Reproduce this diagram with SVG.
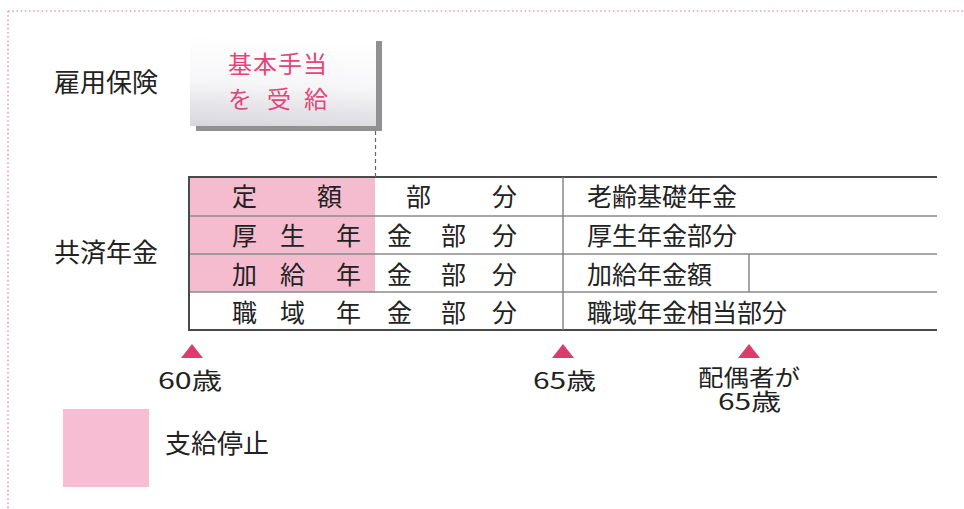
<svg xmlns="http://www.w3.org/2000/svg" width="964" height="509" viewBox="0 0 964 509">
<defs>
<linearGradient id="boxg" x1="0.1" y1="0" x2="0" y2="1">
<stop offset="0" stop-color="#ffffff"/>
<stop offset="0.5" stop-color="#f6f6f8"/>
<stop offset="1" stop-color="#d6d6dc"/>
</linearGradient>
<style>
.t{font-family:"Noto Sans CJK JP","Noto Sans",sans-serif;fill:#222;}
.lbl{font-size:26px;}
.cell{font-size:25px;}
.pk{font-family:"Noto Sans CJK JP","Noto Sans",sans-serif;fill:#e4457a;font-size:24px;}
.hl{stroke:#8a8a8a;stroke-width:1.3;fill:none;}
.hd{stroke:#4a4a4a;stroke-width:2;fill:none;}
.vl{stroke:#777;stroke-width:1.3;fill:none;}
.pink{fill:#f5bcd0;}
.tri{fill:#dc3c6c;}
.age{font-size:23px;}
</style>
</defs>
<rect width="964" height="509" fill="#ffffff"/>
<g id="frame">
<path d="M8 11 H964 M8 11 V509" stroke="#ee9cb6" stroke-width="1.6" stroke-dasharray="1.6 2.6" fill="none"/>
</g>

<g id="label-koyo">
<text class="t lbl" x="54" y="92">雇用保険</text>
</g>

<g id="node-kihon">
<rect x="196" y="41" width="186" height="90" fill="#919191"/>
<rect x="190" y="35" width="186" height="91" fill="url(#boxg)"/>
<text class="pk"><tspan x="228" y="73" letter-spacing="1">基本手当</tspan><tspan x="228" y="108">を</tspan><tspan x="267" y="108">受</tspan><tspan x="304" y="108">給</tspan></text>
</g>

<g id="label-kyosai">
<text class="t lbl" x="54" y="262">共済年金</text>
</g>

<g id="table">
<rect class="pink" x="189" y="178" width="186" height="114"/>
<path class="hd" d="M188 177 H937"/>
<path class="hl" d="M188 216 H937 M188 254 H937 M188 292 H937"/>
<path class="hd" d="M188 330 H937"/>
<path class="hd" d="M189 177 V331"/>
<path class="vl" d="M563 177 V330 M749 254 V292"/>
</g>

<g id="row-teigaku">
<text class="t cell" x="232" y="206">定</text>
<text class="t cell" x="317" y="206">額</text>
<text class="t cell" x="406" y="206">部</text>
<text class="t cell" x="492" y="206">分</text>
<text class="t cell" x="587" y="206">老齢基礎年金</text>
</g>
<g id="row-kosei">
<text class="t cell" x="232" y="245">厚</text>
<text class="t cell" x="280" y="245">生</text>
<text class="t cell" x="336" y="245">年</text>
<text class="t cell" x="387" y="245">金</text>
<text class="t cell" x="441" y="245">部</text>
<text class="t cell" x="492" y="245">分</text>
<text class="t cell" x="587" y="245">厚生年金部分</text>
</g>
<g id="row-kakyu">
<text class="t cell" x="232" y="284">加</text>
<text class="t cell" x="280" y="284">給</text>
<text class="t cell" x="336" y="284">年</text>
<text class="t cell" x="387" y="284">金</text>
<text class="t cell" x="441" y="284">部</text>
<text class="t cell" x="492" y="284">分</text>
<text class="t cell" x="587" y="284">加給年金額</text>
</g>
<g id="row-shokuiki">
<text class="t cell" x="232" y="322">職</text>
<text class="t cell" x="280" y="322">域</text>
<text class="t cell" x="336" y="322">年</text>
<text class="t cell" x="387" y="322">金</text>
<text class="t cell" x="441" y="322">部</text>
<text class="t cell" x="492" y="322">分</text>
<text class="t cell" x="587" y="322">職域年金相当部分</text>
</g>

<g id="connectors">
<path d="M375.5 131 V177" stroke="#666" stroke-width="1.2" stroke-dasharray="4 3" fill="none"/>
</g>

<g id="marker-60">
<polygon class="tri" points="192,344 203,358 181,358"/>
<text class="t age" x="158" y="389" textLength="64" lengthAdjust="spacingAndGlyphs">60歳</text>
</g>
<g id="marker-65">
<polygon class="tri" points="563,344 574,358 552,358"/>
<text class="t age" x="533" y="389" textLength="63" lengthAdjust="spacingAndGlyphs">65歳</text>
</g>
<g id="marker-spouse">
<polygon class="tri" points="749,344 760,358 738,358"/>
<text class="t age"><tspan x="698" y="386" textLength="102" lengthAdjust="spacingAndGlyphs">配偶者が</tspan><tspan x="718" y="410" textLength="63" lengthAdjust="spacingAndGlyphs">65歳</tspan></text>
</g>

<g id="legend">
<rect x="63" y="409" width="86" height="78" fill="#f7bdd3"/>
<text class="t lbl" x="165" y="453">支給停止</text>
</g>
</svg>
